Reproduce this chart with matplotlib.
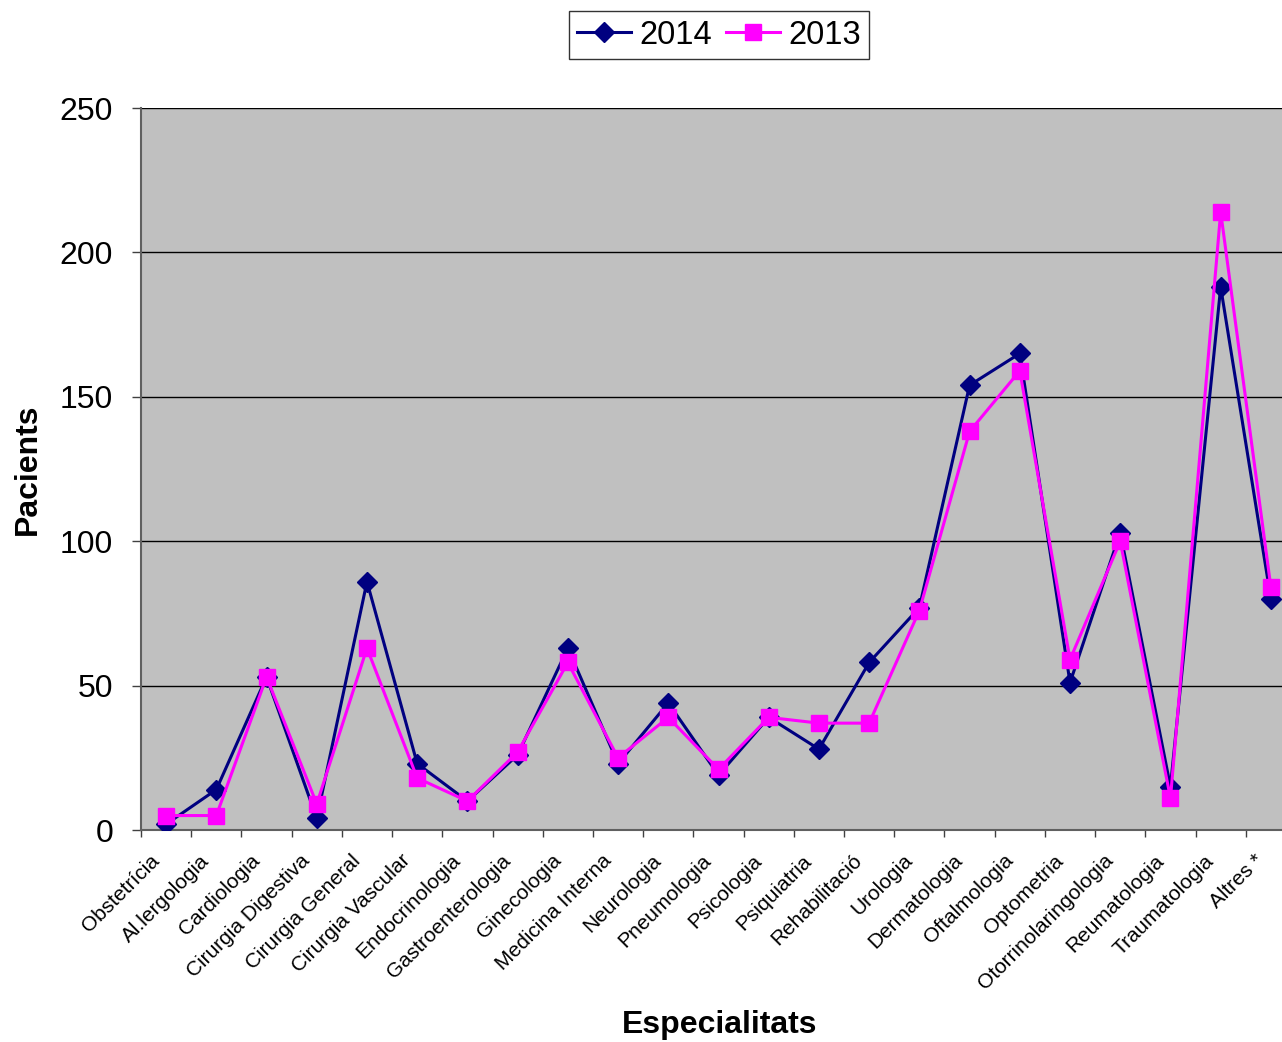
import matplotlib
matplotlib.use("Agg")
import matplotlib.pyplot as plt
import matplotlib.transforms as mtransforms
import numpy as np

especialitats = ["Obstetrícia", "Al.lergologia", "Cardiologia", "Cirurgia Digestiva",
                 "Cirurgia General", "Cirurgia Vascular", "Endocrinologia",
                 "Gastroenterologia", "Ginecologia", "Medicina Interna", "Neurologia",
                 "Pneumologia", "Psicologia", "Psiquiatria", "Rehabilitació", "Urologia",
                 "Dermatologia", "Oftalmologia", "Optometria", "Otorrinolaringologia",
                 "Reumatologia", "Traumatologia", "Altres *"]
v2014 = [2, 14, 53, 4, 86, 23, 10, 26, 63, 23, 44, 19, 39, 28, 58, 77, 154, 165, 51, 103, 15, 188, 80]
v2013 = [5, 5, 53, 9, 63, 18, 10, 27, 58, 25, 39, 21, 39, 37, 37, 76, 138, 159, 59, 100, 11, 214, 84]

plt.rcParams['font.family'] = ['Liberation Sans', 'DejaVu Sans']

fig = plt.figure(figsize=(12.82, 10.42), dpi=100)
ax = fig.add_axes([141/1282, 1 - 830/1042, 1155/1282, 722/1042])
ax.set_facecolor("#c0c0c0")

x = np.arange(len(especialitats))
ax.plot(x, v2014, color="#000080", lw=2.2, marker="D", ms=10, label="2014", zorder=3)
ax.plot(x, v2013, color="#ff00ff", lw=2.2, marker="s", ms=11, label="2013", zorder=4)

ax.set_xlim(-0.5, len(especialitats) - 0.5)
ax.set_ylim(0, 250)
ax.set_yticks(np.arange(0, 251, 50))
ax.yaxis.grid(True, color="black", lw=1)
ax.set_axisbelow(True)

ax.set_xticks(x)
ax.set_xticklabels(especialitats, rotation=45, ha="right", va="center",
                   rotation_mode="anchor", fontsize=15)
ax.set_xticks(np.arange(-0.5, len(especialitats)), minor=True)
ax.tick_params(axis="x", which="major", length=0, pad=20)
ax.tick_params(axis="x", which="minor", length=5, width=1, color="#404040")
ax.tick_params(axis="y", length=6.5, width=1, color="#404040", labelsize=23, pad=13.5)

# nudge the rotated labels left (after tick_params, which resets transforms)
shift = mtransforms.ScaledTranslation(-10/100, 0, fig.dpi_scale_trans)
for lbl in ax.get_xticklabels():
    lbl.set_transform(lbl.get_transform() + shift)

for s in ["top", "right"]:
    ax.spines[s].set_visible(False)
for s in ["left", "bottom"]:
    ax.spines[s].set_color("#606060")
    ax.spines[s].set_linewidth(1.5)

ax.set_xlabel("Especialitats", fontsize=23, fontweight="bold")
ax.set_ylabel("Pacients", fontsize=23, fontweight="bold")
ax.xaxis.label.set_va("center")
ax.yaxis.label.set_va("center")
ax.xaxis.set_label_coords((720 - 141) / 1155, -(1025 - 830) / 722)
ax.yaxis.set_label_coords(-(141 - 28) / 1155, 0.5)

leg = fig.legend(loc="center", bbox_to_anchor=(719/1282, 1 - 35/1042), ncol=2,
                 fontsize=23.5, frameon=True, fancybox=False, edgecolor="black",
                 handlelength=1.65, handletextpad=0.25, columnspacing=0.45, borderpad=0.25)
leg.get_frame().set_linewidth(1)

fig.savefig("out.png", dpi=100)
